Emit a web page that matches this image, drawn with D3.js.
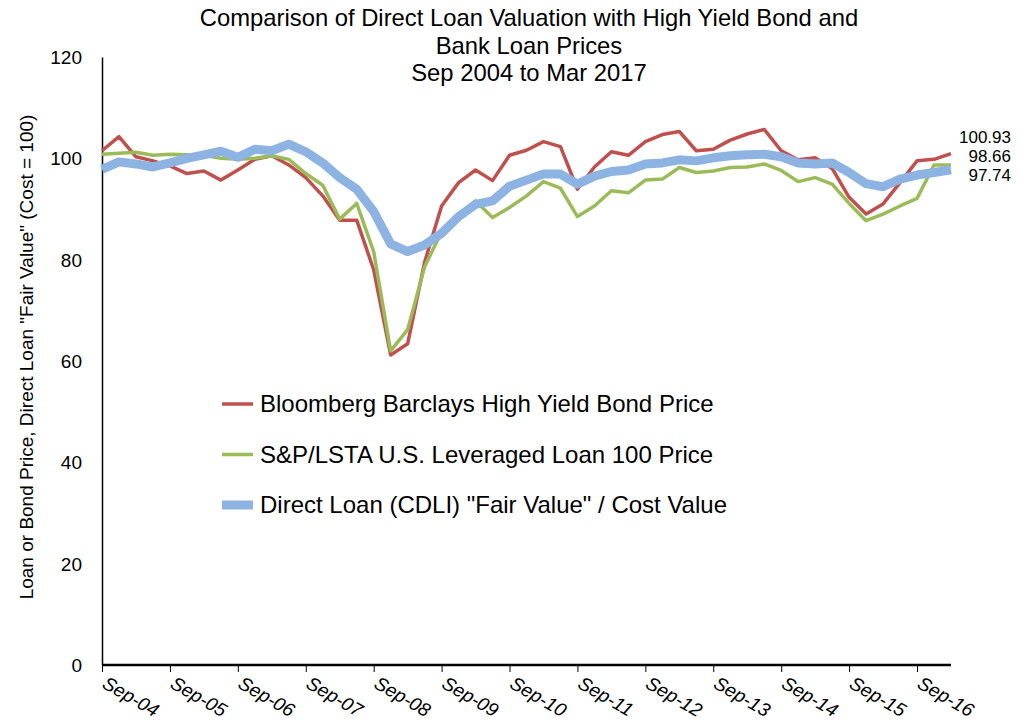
<!DOCTYPE html>
<html>
<head>
<meta charset="utf-8">
<script src="https://cdn.jsdelivr.net/npm/d3@7"></script>
<style>
  body { margin: 0; background: #fff; }
  text { font-family: "Liberation Sans", Arial, sans-serif; fill: #000; }
</style>
</head>
<body>
<svg id="chart" width="1019" height="727"></svg>
<script>
/* quarterly points, Sep 2004 .. Mar 2017 */
var quarters = [
  "Sep-04","Dec-04","Mar-05","Jun-05","Sep-05","Dec-05","Mar-06","Jun-06",
  "Sep-06","Dec-06","Mar-07","Jun-07","Sep-07","Dec-07","Mar-08","Jun-08",
  "Sep-08","Dec-08","Mar-09","Jun-09","Sep-09","Dec-09","Mar-10","Jun-10",
  "Sep-10","Dec-10","Mar-11","Jun-11","Sep-11","Dec-11","Mar-12","Jun-12",
  "Sep-12","Dec-12","Mar-13","Jun-13","Sep-13","Dec-13","Mar-14","Jun-14",
  "Sep-14","Dec-14","Mar-15","Jun-15","Sep-15","Dec-15","Mar-16","Jun-16",
  "Sep-16","Dec-16","Mar-17"];

var highYield = [101.5,104.3,100.3,99.5,98.5,97.0,97.5,95.7,97.7,99.8,
  100.5,98.7,96.2,92.6,87.8,87.8,78.0,61.2,63.4,79.5,
  90.6,95.2,97.7,95.6,100.6,101.6,103.3,102.3,93.9,98.3,
  101.3,100.6,103.3,104.7,105.3,101.5,101.8,103.6,104.8,105.7,
  101.5,99.7,100.1,98.0,92.3,89.0,91.0,95.2,99.5,99.8,100.93];

var levLoan = [100.8,101.0,101.2,100.6,100.8,100.7,100.6,100.0,99.8,100.0,
  100.5,99.8,97.0,94.7,88.0,91.1,81.6,62.0,66.2,78.6,
  85.5,88.8,91.6,88.3,90.3,92.6,95.4,94.1,88.5,90.6,
  93.6,93.2,95.7,95.9,98.2,97.2,97.5,98.2,98.3,98.9,
  97.6,95.4,96.2,94.9,91.1,87.7,89.0,90.6,92.1,98.7,98.66];

var directLoan = [97.8,99.3,98.9,98.3,99.1,100.0,100.7,101.4,100.2,101.8,
  101.5,102.8,101.3,99.1,96.2,93.9,89.5,83.1,81.6,82.9,
  85.2,88.5,90.9,91.6,94.5,95.7,96.9,96.9,94.9,96.5,
  97.4,97.7,98.9,99.1,99.7,99.5,100.1,100.5,100.7,100.8,
  100.3,99.1,98.9,99.1,97.2,95.0,94.4,95.9,96.7,97.2,97.74];

var yTicks = [0, 20, 40, 60, 80, 100, 120];
var xTickLabels = quarters.filter(function(q) { return q.indexOf("Sep") === 0; });

var series = [
  {name: "Bloomberg Barclays High Yield Bond Price", values: highYield, color: "#c0504d", width: 3.5},
  {name: "S&P/LSTA U.S. Leveraged Loan 100 Price", values: levLoan, color: "#9bbb59", width: 3.5},
  {name: "Direct Loan (CDLI) \"Fair Value\" / Cost Value", values: directLoan, color: "#8db3e2", width: 9}
];

var svg = d3.select("#chart");
var plotLeft = 102, plotRight = 951, plotTop = 57, plotBottom = 665;

var x = d3.scalePoint().domain(quarters).range([plotLeft, plotRight]);
var y = d3.scaleLinear().domain([0, 120]).range([plotBottom, plotTop]);

// title
var title = ["Comparison of Direct Loan Valuation with High Yield Bond and",
             "Bank Loan Prices", "Sep 2004 to Mar 2017"];
svg.append("g").selectAll("text").data(title).join("text")
    .attr("x", 529)
    .attr("y", function(d, i) { return 26 + i * 27.5; })
    .attr("text-anchor", "middle")
    .style("font-size", "23.8px")
    .text(function(d) { return d; });

// y axis
var yAxis = svg.append("g")
    .attr("transform", "translate(" + plotLeft + ",0)")
    .call(d3.axisLeft(y).tickValues(yTicks).tickSize(0).tickPadding(20));
yAxis.select(".domain").attr("stroke", "#000").attr("stroke-width", 1.5);
yAxis.selectAll("text").style("font-size", "19px").attr("dy", "0.35em")
    .style("font-family", "'Liberation Sans', Arial, sans-serif");

// x axis
var xAxis = svg.append("g")
    .attr("transform", "translate(0," + plotBottom + ")")
    .call(d3.axisBottom(x).tickValues(xTickLabels).tickSize(7).tickFormat(""));
xAxis.select(".domain").attr("stroke", "#000").attr("stroke-width", 2.5)
    .attr("d", "M" + plotLeft + ",0H" + plotRight);
xAxis.selectAll(".tick line").attr("stroke", "#000");

svg.append("g").selectAll("text").data(xTickLabels).join("text")
    .attr("transform", function(d) {
      return "translate(" + (x(d) - 1) + "," + (plotBottom + 22) + ") rotate(30)";
    })
    .style("font-size", "19px")
    .style("font-style", "italic")
    .text(function(d) { return d; });

// y axis label
svg.append("text")
    .attr("transform", "translate(33,357) rotate(-90)")
    .attr("text-anchor", "middle")
    .style("font-size", "19px")
    .text("Loan or Bond Price, Direct Loan \"Fair Value\" (Cost = 100)");

// lines
var line = d3.line()
    .x(function(d, i) { return x(quarters[i]); })
    .y(function(d) { return y(d); });

svg.append("g").selectAll("path").data(series).join("path")
    .attr("d", function(s) { return line(s.values); })
    .attr("fill", "none")
    .attr("stroke", function(s) { return s.color; })
    .attr("stroke-width", function(s) { return s.width; })
    .attr("stroke-linejoin", "round");

// end values
var endVals = [highYield[highYield.length - 1], levLoan[levLoan.length - 1], directLoan[directLoan.length - 1]];
svg.append("g").selectAll("text").data(endVals).join("text")
    .attr("x", 1011)
    .attr("y", function(d, i) { return 137 + i * 19; })
    .attr("dy", "0.35em")
    .attr("text-anchor", "end")
    .style("font-size", "17px")
    .text(function(d) { return d.toFixed(2); });

// legend
var legend = svg.append("g").selectAll("g").data(series).join("g")
    .attr("transform", function(d, i) { return "translate(222," + (404 + i * 50.5) + ")"; });
legend.append("line")
    .attr("x1", 0).attr("x2", 31)
    .attr("stroke", function(s) { return s.color; })
    .attr("stroke-width", function(s) { return s.width; });
legend.append("text")
    .attr("x", 38)
    .attr("dy", "0.35em")
    .style("font-size", "24px")
    .text(function(s) { return s.name; });
</script>
</body>
</html>
